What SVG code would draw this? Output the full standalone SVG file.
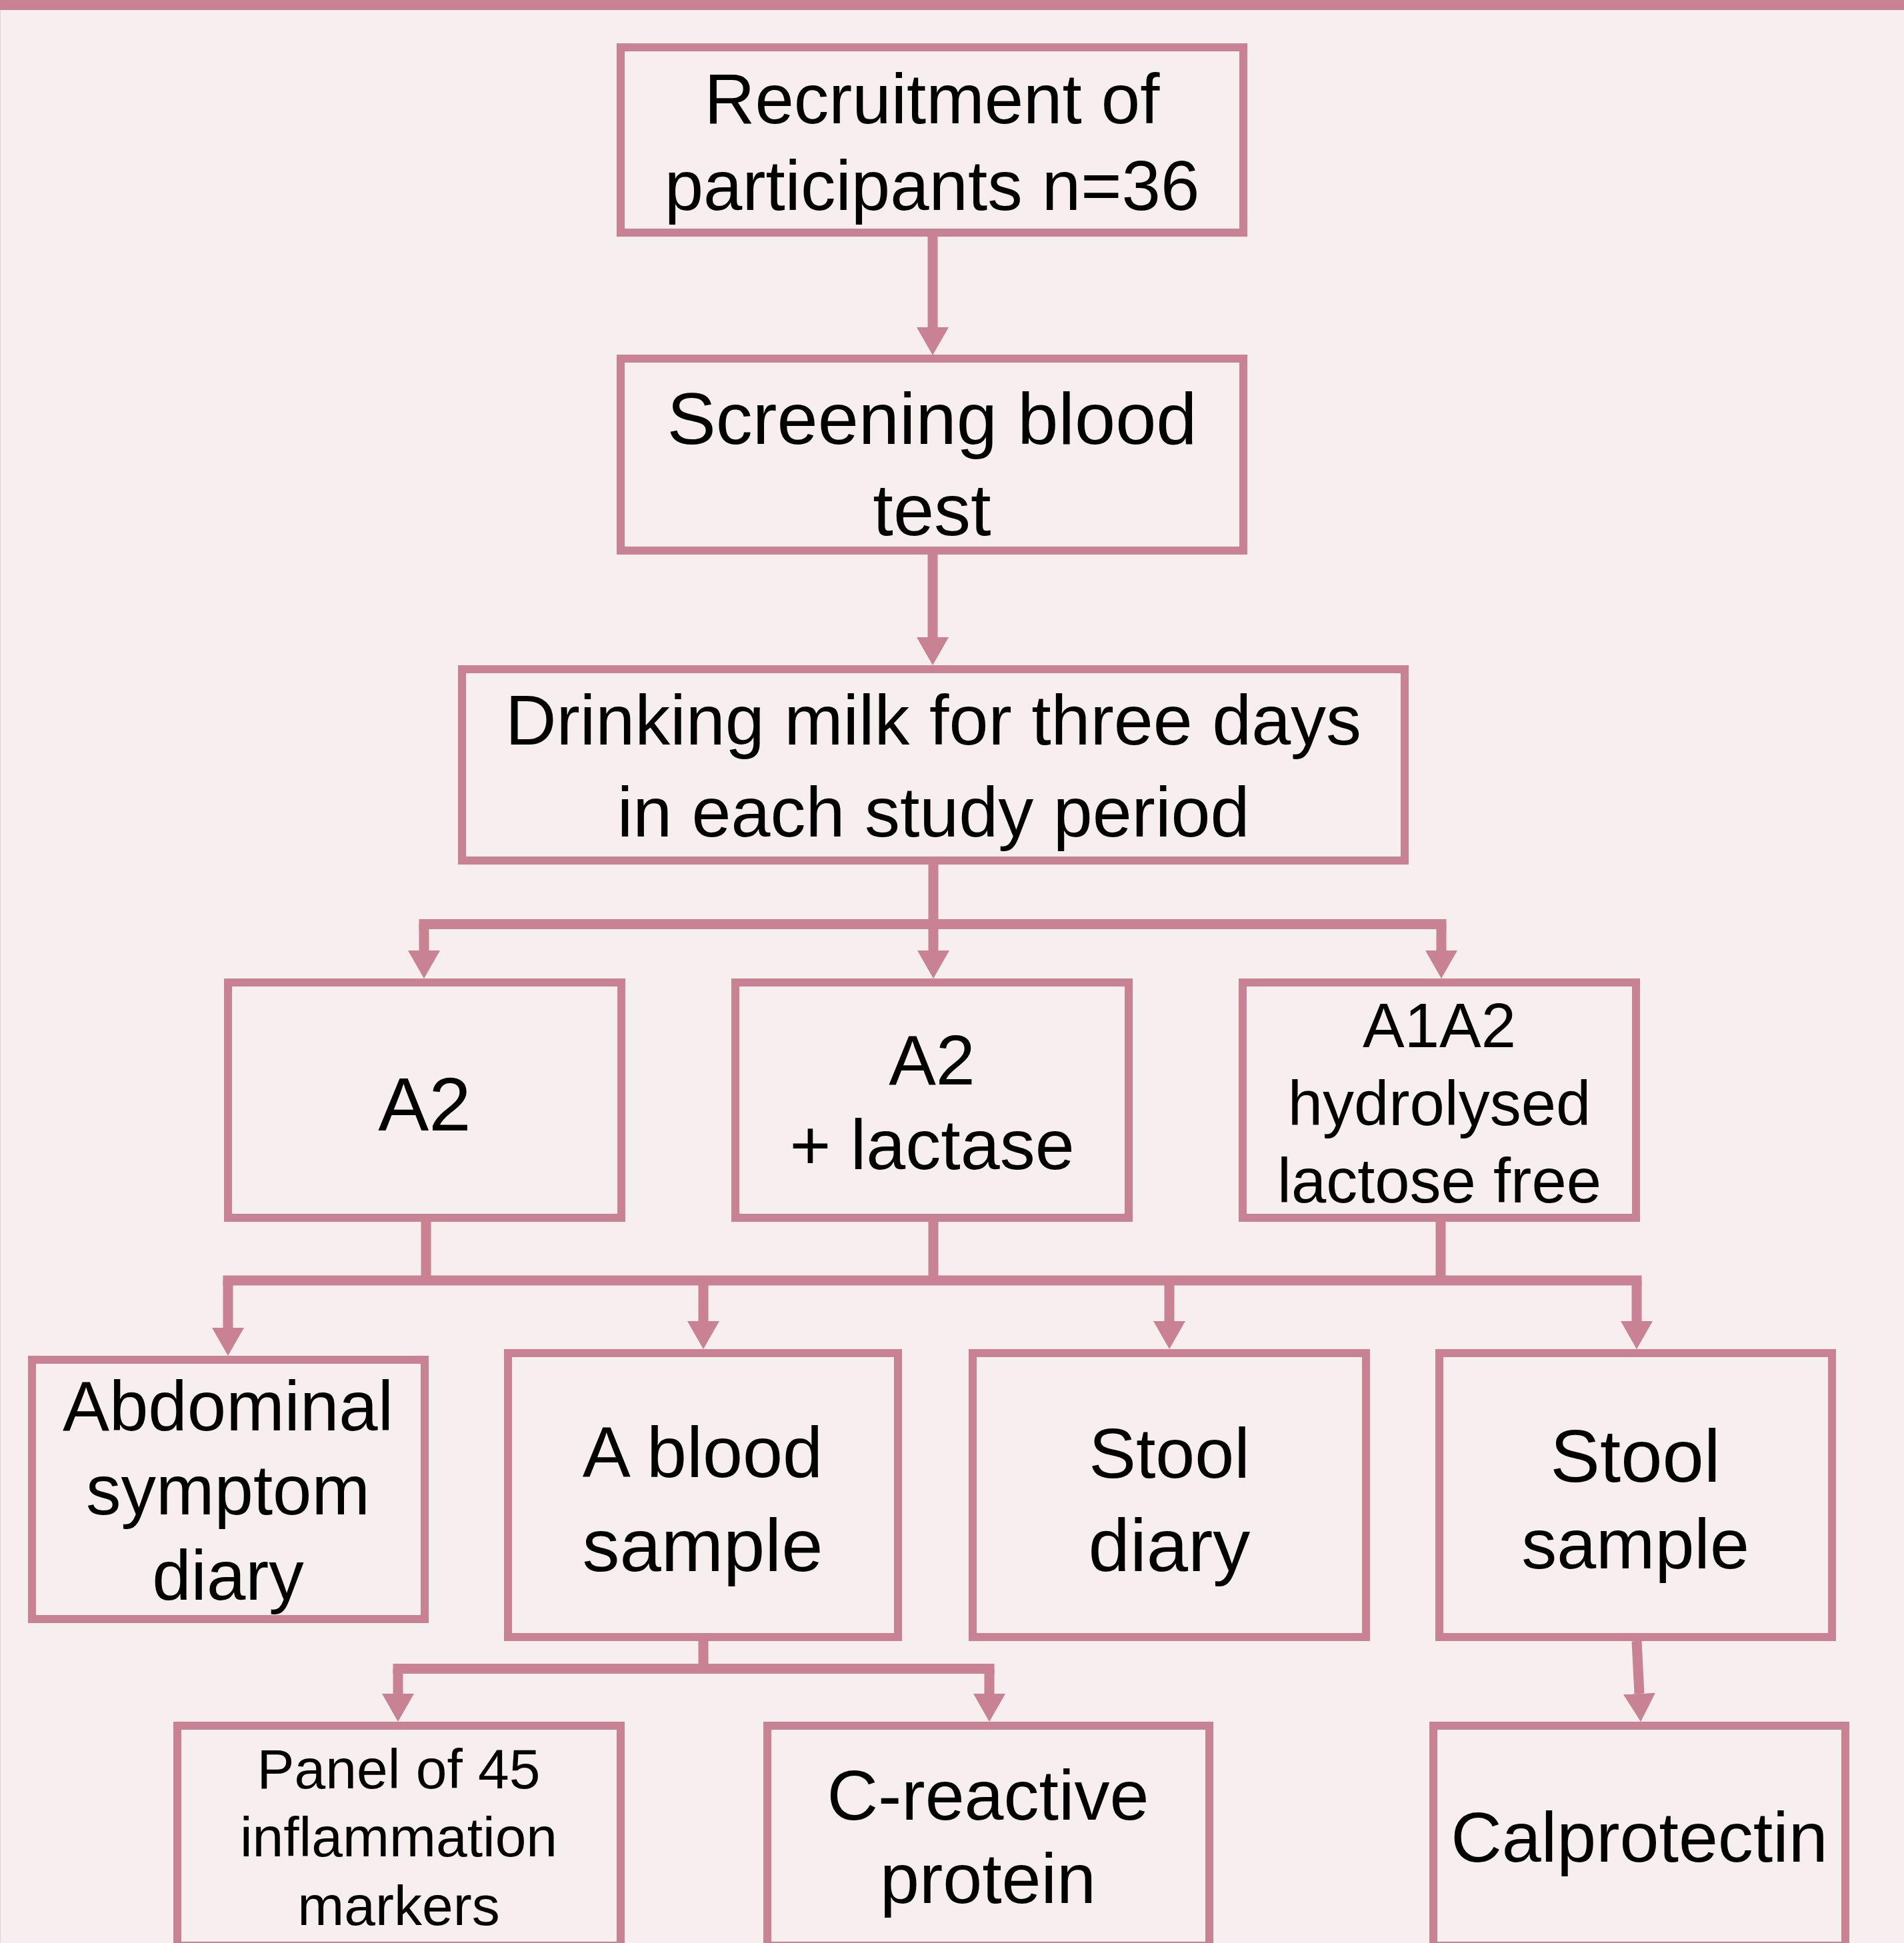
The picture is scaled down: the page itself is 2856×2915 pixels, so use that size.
<svg xmlns="http://www.w3.org/2000/svg" width="2856" height="2915" viewBox="0 0 2856 2915">
<defs>
<style>
.bg{fill:#f7eef0}
.box{fill:#f7eef0;stroke:#c88294;stroke-width:12}
.ln{fill:none;stroke:#c88294;stroke-width:15;stroke-linejoin:miter;stroke-linecap:butt}
.t{font-family:"Liberation Sans",Arial,Helvetica,sans-serif;fill:#000;text-anchor:middle}
</style>
<marker id="ah" viewBox="0 0 42 48" refX="0" refY="24" markerWidth="42" markerHeight="48" markerUnits="userSpaceOnUse" orient="auto">
<path d="M0,0 L42,24 L0,48 z" fill="#c88294"/>
</marker>
</defs>
<rect class="bg" x="0" y="0" width="2856" height="2915"/>
<rect x="0" y="0" width="2856" height="15" fill="#c88294"/>
<line x1="0.5" y1="15" x2="0.5" y2="2915" stroke="#dcd4d6" stroke-width="1"/>

<g id="connectors">
<line class="ln" x1="1399" y1="355" x2="1399" y2="491" marker-end="url(#ah)"/>
<line class="ln" x1="1399" y1="832" x2="1399" y2="956" marker-end="url(#ah)"/>
<path class="ln" d="M1400,1297 V1386.5"/>
<path class="ln" d="M628.5,1386.5 H2169.5"/>
<line class="ln" x1="636" y1="1386.5" x2="636" y2="1426" marker-end="url(#ah)"/>
<line class="ln" x1="1400" y1="1386.5" x2="1400" y2="1426" marker-end="url(#ah)"/>
<line class="ln" x1="2162" y1="1386.5" x2="2162" y2="1426" marker-end="url(#ah)"/>
<path class="ln" d="M639,1833 V1921"/>
<path class="ln" d="M1400,1833 V1921"/>
<path class="ln" d="M2161,1833 V1921"/>
<path class="ln" d="M334.5,1921 H2462.5"/>
<line class="ln" x1="342" y1="1921" x2="342" y2="1992" marker-end="url(#ah)"/>
<line class="ln" x1="1055" y1="1921" x2="1055" y2="1982" marker-end="url(#ah)"/>
<line class="ln" x1="1754" y1="1921" x2="1754" y2="1982" marker-end="url(#ah)"/>
<line class="ln" x1="2455" y1="1921" x2="2455" y2="1982" marker-end="url(#ah)"/>
<path class="ln" d="M1055,2462 V2503.5"/>
<path class="ln" d="M589.5,2503.5 H1491.5"/>
<line class="ln" x1="597" y1="2503.5" x2="597" y2="2541" marker-end="url(#ah)"/>
<line class="ln" x1="1484" y1="2503.5" x2="1484" y2="2541" marker-end="url(#ah)"/>
<line class="ln" x1="2455" y1="2462" x2="2459" y2="2541" marker-end="url(#ah)"/>
</g>

<g id="n-recruitment">
<rect class="box" x="931" y="71" width="934" height="278"/>
<text class="t" x="1398" y="185" font-size="105">Recruitment of</text>
<text class="t" x="1398" y="315" font-size="105">participants n=36</text>
</g>
<g id="n-screening">
<rect class="box" x="931" y="538" width="934" height="288"/>
<text class="t" x="1398" y="666" font-size="110">Screening blood</text>
<text class="t" x="1398" y="803" font-size="110">test</text>
</g>
<g id="n-drinking">
<rect class="box" x="693" y="1004" width="1414" height="287"/>
<text class="t" x="1400" y="1117" font-size="106">Drinking milk for three days</text>
<text class="t" x="1400" y="1255" font-size="106">in each study period</text>
</g>
<g id="n-a2">
<rect class="box" x="342" y="1474" width="590" height="353"/>
<text class="t" x="637" y="1696" font-size="114">A2</text>
</g>
<g id="n-a2-lactase">
<rect class="box" x="1103" y="1474" width="590" height="353"/>
<text class="t" x="1398" y="1627" font-size="106">A2</text>
<text class="t" x="1398" y="1754" font-size="106">+ lactase</text>
</g>
<g id="n-a1a2">
<rect class="box" x="1864" y="1474" width="590" height="353"/>
<text class="t" x="2159" y="1571" font-size="94">A1A2</text>
<text class="t" x="2159" y="1688" font-size="94">hydrolysed</text>
<text class="t" x="2159" y="1804" font-size="94">lactose free</text>
</g>
<g id="n-abdominal">
<rect class="box" x="48" y="2040" width="589" height="389"/>
<text class="t" x="342" y="2146" font-size="105">Abdominal</text>
<text class="t" x="342" y="2272" font-size="105">symptom</text>
<text class="t" x="342" y="2400" font-size="105">diary</text>
</g>
<g id="n-blood">
<rect class="box" x="762" y="2030" width="585" height="426"/>
<text class="t" x="1054" y="2216" font-size="108">A blood</text>
<text class="t" x="1054" y="2357" font-size="112">sample</text>
</g>
<g id="n-stool-diary">
<rect class="box" x="1459" y="2030" width="590" height="426"/>
<text class="t" x="1754" y="2217" font-size="106">Stool</text>
<text class="t" x="1754" y="2357" font-size="112">diary</text>
</g>
<g id="n-stool-sample">
<rect class="box" x="2159" y="2030" width="589" height="426"/>
<text class="t" x="2453" y="2223" font-size="112">Stool</text>
<text class="t" x="2453" y="2353" font-size="106">sample</text>
</g>
<g id="n-panel">
<rect class="box" x="266" y="2589" width="665" height="330"/>
<text class="t" x="598" y="2683" font-size="84">Panel of 45</text>
<text class="t" x="598" y="2785" font-size="84">inflammation</text>
<text class="t" x="598" y="2888" font-size="84">markers</text>
</g>
<g id="n-crp">
<rect class="box" x="1151" y="2589" width="663" height="330"/>
<text class="t" x="1482" y="2730" font-size="106">C-reactive</text>
<text class="t" x="1482" y="2855" font-size="106">protein</text>
</g>
<g id="n-calprotectin">
<rect class="box" x="2150" y="2589" width="618" height="330"/>
<text class="t" x="2459" y="2793" font-size="106">Calprotectin</text>
</g>
</svg>
